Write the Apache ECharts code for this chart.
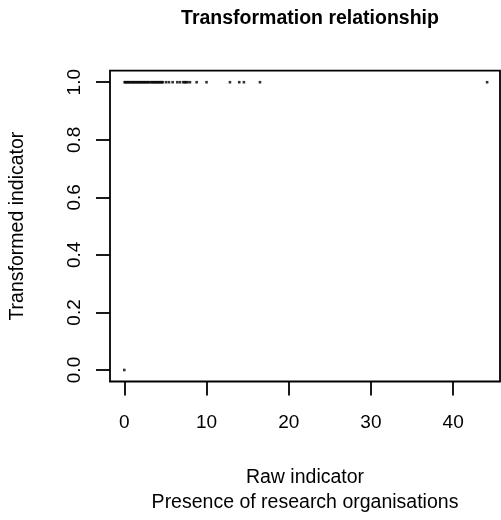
<!DOCTYPE html>
<html><head><meta charset="utf-8">
<script src="https://cdn.jsdelivr.net/npm/echarts@6/dist/echarts.min.js"></script>
<style>html,body{margin:0;padding:0;background:#fff}#c{width:501px;height:520px}</style>
</head><body><div id="c"></div>
<script>
// Raw indicator values
var rawValues = [0.04,0.15,0.3,0.45,0.6,0.75,0.9,1.05,1.2,1.35,1.5,1.65,1.8,1.95,2.1,2.25,2.4,2.55,2.7,2.85,3.0,
  3.2,3.35,3.5,3.65,3.8,3.95,4.1,4.25,4.4,4.55,4.67,5.07,5.43,5.88,6.44,6.77,7.17,7.35,7.5,7.7,7.99,8.8,10.0,12.85,13.98,14.55,16.5,44.13,0];
// Transformed indicator values
var transformedValues = [1,1,1,1,1,1,1,1,1,1,1,1,1,1,1,1,1,1,1,1,1,
  1,1,1,1,1,1,1,1,1,1,1,1,1,1,1,1,1,1,1,1,1,1,1,1,1,1,1,1,0];
var xTicks = [0,10,20,30,40];
var yTicks = [0.0,0.2,0.4,0.6,0.8,1.0];
var titleText = 'Transformation relationship';
var xName = 'Raw indicator\nPresence of research organisations';
var yName = 'Transformed indicator';

var pts = rawValues.map(function(v,i){ return [v, transformedValues[i]]; });
var font = 'Liberation Sans, Arial, sans-serif';
var chart = echarts.init(document.getElementById('c'), null, {renderer:'canvas'});
chart.setOption({
  animation:false,
  backgroundColor:'#fff',
  title:{text:titleText,left:305,textAlign:'center',top:4,textStyle:{fontFamily:font,fontSize:19.5,fontWeight:'bold',color:'#000'}},
  grid:{left:110,right:1,top:70.7,bottom:137,show:true,borderColor:'#000',borderWidth:1.8,backgroundColor:'transparent'},
  xAxis:{type:'value',min:-1.74,max:45.7,interval:10,
    axisLine:{show:false,onZero:false},
    axisTick:{show:true,length:14,lineStyle:{color:'#000',width:1.8},customValues:xTicks},
    axisLabel:{fontFamily:font,fontSize:19,color:'#000',margin:32,customValues:xTicks,formatter:function(v){return String(v);}},
    splitLine:{show:false},
    name:xName,nameLocation:'middle',nameGap:83.5,
    nameTextStyle:{fontFamily:font,fontSize:19.5,color:'#000',lineHeight:25,verticalAlign:'top'}
  },
  yAxis:{type:'value',min:-0.04,max:1.04,
    axisLine:{show:false,onZero:false},
    axisTick:{show:true,length:14,lineStyle:{color:'#000',width:1.8},customValues:yTicks},
    axisLabel:{fontFamily:font,fontSize:19,color:'#000',margin:26,rotate:90,customValues:yTicks,formatter:function(v){return v.toFixed(1);}},
    splitLine:{show:false},
    name:yName,nameLocation:'middle',nameGap:82,
    nameTextStyle:{fontFamily:font,fontSize:19.5,color:'#000'}
  },
  series:[{type:'scatter',data:pts,symbol:'rect',symbolSize:2.6,itemStyle:{color:'#000'},clip:false}]
});
</script></body></html>
